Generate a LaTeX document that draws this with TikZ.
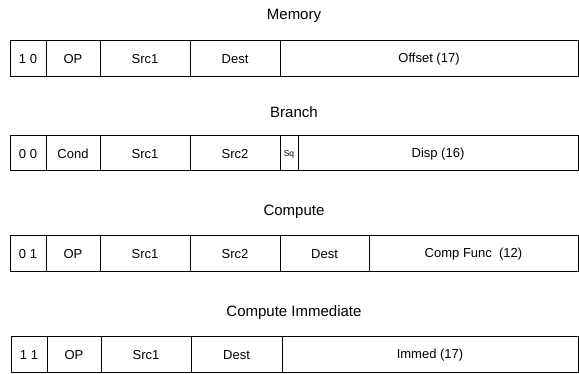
\documentclass[tikz,border=0pt]{standalone}
\usepackage{fontspec}
\setmainfont{Liberation Sans}
\tikzset{
  field/.style={draw, line width=0.8pt},
  fieldtext/.style={font=\fontsize{13}{15}\selectfont, inner sep=0pt},
  smalltext/.style={font=\fontsize{8.5}{10}\selectfont, inner sep=0pt},
  title/.style={font=\fontsize{15}{18}\selectfont, anchor=base, inner sep=0pt}
}
\begin{document}
\begin{tikzpicture}[x=1pt, y=-1pt]
	\useasboundingbox (0,0) rectangle (579,374);
	% Memory
		\node[title] (tmem) at (294,19.5) {Memory};
		\foreach \a/\b/\t [count=\i] in {10/46/1 0, 46/100/OP, 100/190/Src1, 190/280/Dest, 280/578/Offset (17)}
		{
			\draw[field] (\a,40) rectangle (\b,76);
			\node[fieldtext] (mem\i) at ({(\a+\b)/2},59.5) {\t};
		}
	% Branch
		\node[title] (tbr) at (294,118) {Branch};
		\foreach \a/\b/\t [count=\i] in {10/46/0 0, 46/100/Cond, 100/190/Src1, 190/280/Src2, 298/578/Disp (16)}
		{
			\draw[field] (\a,135) rectangle (\b,170);
			\node[fieldtext] (br\i) at ({(\a+\b)/2},154) {\t};
		}
		\draw[field] (280,135) rectangle (298,170);
		\node[smalltext] (brsq) at (289,154) {Sq};
	% Compute
		\node[title] (tcmp) at (294,216) {Compute};
		\foreach \a/\b/\t [count=\i] in {10/46/0 1, 46/100/OP, 100/190/Src1, 190/280/Src2, 280/369/Dest, 369/578/Comp Func\ \ (12)}
		{
			\draw[field] (\a,235) rectangle (\b,271);
			\node[fieldtext] (cmp\i) at ({(\a+\b)/2},254.5) {\t};
		}
	% Compute Immediate
		\node[title] (timm) at (294,316.5) {Compute Immediate};
		\foreach \a/\b/\t [count=\i] in {11/47/1 1, 47/101/OP, 101/191/Src1, 191/282/Dest, 282/578/Immed (17)}
		{
			\draw[field] (\a,336) rectangle (\b,372);
			\node[fieldtext] (imm\i) at ({(\a+\b)/2},355.5) {\t};
		}
\end{tikzpicture}
\end{document}
